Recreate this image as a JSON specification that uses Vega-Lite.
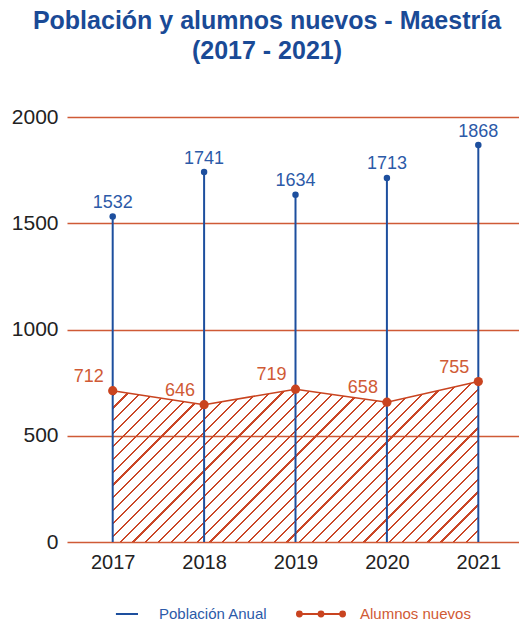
{
  "$schema": "https://vega.github.io/schema/vega-lite/v6.json",
  "width": 452,
  "height": 425,
  "autosize": "none",
  "padding": {"left": 67, "top": 117, "right": 0, "bottom": 81},
  "background": "white",
  "title": {
    "text": ["Población y alumnos nuevos - Maestría", "(2017 - 2021)"],
    "font": "Liberation Sans",
    "fontSize": 25,
    "fontWeight": "bold",
    "color": "#1a4a96",
    "anchor": "middle",
    "lineHeight": 30,
    "offset": 42,
    "dx": -26
  },
  "config": {
    "view": {"stroke": null},
    "font": "Liberation Sans"
  },
  "data": {
    "values": [
      {"year": "2017", "serie": "Población Anual", "value": 1532},
      {"year": "2018", "serie": "Población Anual", "value": 1741},
      {"year": "2019", "serie": "Población Anual", "value": 1634},
      {"year": "2020", "serie": "Población Anual", "value": 1713},
      {"year": "2021", "serie": "Población Anual", "value": 1868},
      {"year": "2017", "serie": "Alumnos nuevos", "value": 712},
      {"year": "2018", "serie": "Alumnos nuevos", "value": 646},
      {"year": "2019", "serie": "Alumnos nuevos", "value": 719},
      {"year": "2020", "serie": "Alumnos nuevos", "value": 658},
      {"year": "2021", "serie": "Alumnos nuevos", "value": 755}
    ]
  },
  "encoding": {
    "x": {
      "field": "year", "type": "nominal",
      "scale": {"type": "point", "padding": 0.4726, "align": 0.529},
      "axis": {"title": null, "labelAngle": 0, "domain": false, "ticks": false, "grid": false,
               "labelFontSize": 20, "labelColor": "#222222", "labelPadding": 10, "labelFont": "Liberation Sans"}
    },
    "y": {
      "field": "value", "type": "quantitative",
      "scale": {"domain": [0, 2000], "nice": false},
      "axis": {"title": null, "values": [0, 500, 1000, 1500, 2000], "format": "d", "domain": false, "ticks": false,
               "grid": true, "gridColor": "#cf5a36", "gridWidth": 1.3, "gridOpacity": 1,
               "labelFontSize": 21, "labelColor": "#222222", "labelPadding": 9, "labelFont": "Liberation Sans"}
    }
  },
  "layer": [
    {
      "transform": [{"filter": "datum.serie === 'Alumnos nuevos'"}],
      "mark": {
        "type": "area",
        "fill": {
          "gradient": "linear", "x1": 0, "y1": 0, "x2": 1.2065, "y2": 0.5294,
          "stops": [
            {"offset":0,"color":"#ca4626"},{"offset":0.0042,"color":"#ca4626"},{"offset":0.0042,"color":"rgba(255,255,255,0)"},{"offset":0.0244,"color":"rgba(255,255,255,0)"},
            {"offset":0.0244,"color":"#ca4626"},{"offset":0.0286,"color":"#ca4626"},{"offset":0.0286,"color":"rgba(255,255,255,0)"},{"offset":0.0488,"color":"rgba(255,255,255,0)"},
            {"offset":0.0488,"color":"#ca4626"},{"offset":0.0530,"color":"#ca4626"},{"offset":0.0530,"color":"rgba(255,255,255,0)"},{"offset":0.0732,"color":"rgba(255,255,255,0)"},
            {"offset":0.0732,"color":"#ca4626"},{"offset":0.0774,"color":"#ca4626"},{"offset":0.0774,"color":"rgba(255,255,255,0)"},{"offset":0.0976,"color":"rgba(255,255,255,0)"},
            {"offset":0.0976,"color":"#ca4626"},{"offset":0.1018,"color":"#ca4626"},{"offset":0.1018,"color":"rgba(255,255,255,0)"},{"offset":0.1220,"color":"rgba(255,255,255,0)"},
            {"offset":0.1220,"color":"#ca4626"},{"offset":0.1262,"color":"#ca4626"},{"offset":0.1262,"color":"rgba(255,255,255,0)"},{"offset":0.1463,"color":"rgba(255,255,255,0)"},
            {"offset":0.1463,"color":"#ca4626"},{"offset":0.1505,"color":"#ca4626"},{"offset":0.1505,"color":"rgba(255,255,255,0)"},{"offset":0.1707,"color":"rgba(255,255,255,0)"},
            {"offset":0.1707,"color":"#ca4626"},{"offset":0.1749,"color":"#ca4626"},{"offset":0.1749,"color":"rgba(255,255,255,0)"},{"offset":0.1951,"color":"rgba(255,255,255,0)"},
            {"offset":0.1951,"color":"#ca4626"},{"offset":0.1993,"color":"#ca4626"},{"offset":0.1993,"color":"rgba(255,255,255,0)"},{"offset":0.2195,"color":"rgba(255,255,255,0)"},
            {"offset":0.2195,"color":"#ca4626"},{"offset":0.2237,"color":"#ca4626"},{"offset":0.2237,"color":"rgba(255,255,255,0)"},{"offset":0.2439,"color":"rgba(255,255,255,0)"},
            {"offset":0.2439,"color":"#ca4626"},{"offset":0.2481,"color":"#ca4626"},{"offset":0.2481,"color":"rgba(255,255,255,0)"},{"offset":0.2683,"color":"rgba(255,255,255,0)"},
            {"offset":0.2683,"color":"#ca4626"},{"offset":0.2725,"color":"#ca4626"},{"offset":0.2725,"color":"rgba(255,255,255,0)"},{"offset":0.2927,"color":"rgba(255,255,255,0)"},
            {"offset":0.2927,"color":"#ca4626"},{"offset":0.2969,"color":"#ca4626"},{"offset":0.2969,"color":"rgba(255,255,255,0)"},{"offset":0.3171,"color":"rgba(255,255,255,0)"},
            {"offset":0.3171,"color":"#ca4626"},{"offset":0.3213,"color":"#ca4626"},{"offset":0.3213,"color":"rgba(255,255,255,0)"},{"offset":0.3415,"color":"rgba(255,255,255,0)"},
            {"offset":0.3415,"color":"#ca4626"},{"offset":0.3457,"color":"#ca4626"},{"offset":0.3457,"color":"rgba(255,255,255,0)"},{"offset":0.3659,"color":"rgba(255,255,255,0)"},
            {"offset":0.3659,"color":"#ca4626"},{"offset":0.3701,"color":"#ca4626"},{"offset":0.3701,"color":"rgba(255,255,255,0)"},{"offset":0.3902,"color":"rgba(255,255,255,0)"},
            {"offset":0.3902,"color":"#ca4626"},{"offset":0.3944,"color":"#ca4626"},{"offset":0.3944,"color":"rgba(255,255,255,0)"},{"offset":0.4146,"color":"rgba(255,255,255,0)"},
            {"offset":0.4146,"color":"#ca4626"},{"offset":0.4188,"color":"#ca4626"},{"offset":0.4188,"color":"rgba(255,255,255,0)"},{"offset":0.4390,"color":"rgba(255,255,255,0)"},
            {"offset":0.4390,"color":"#ca4626"},{"offset":0.4432,"color":"#ca4626"},{"offset":0.4432,"color":"rgba(255,255,255,0)"},{"offset":0.4634,"color":"rgba(255,255,255,0)"},
            {"offset":0.4634,"color":"#ca4626"},{"offset":0.4676,"color":"#ca4626"},{"offset":0.4676,"color":"rgba(255,255,255,0)"},{"offset":0.4878,"color":"rgba(255,255,255,0)"},
            {"offset":0.4878,"color":"#ca4626"},{"offset":0.4920,"color":"#ca4626"},{"offset":0.4920,"color":"rgba(255,255,255,0)"},{"offset":0.5122,"color":"rgba(255,255,255,0)"},
            {"offset":0.5122,"color":"#ca4626"},{"offset":0.5164,"color":"#ca4626"},{"offset":0.5164,"color":"rgba(255,255,255,0)"},{"offset":0.5366,"color":"rgba(255,255,255,0)"},
            {"offset":0.5366,"color":"#ca4626"},{"offset":0.5408,"color":"#ca4626"},{"offset":0.5408,"color":"rgba(255,255,255,0)"},{"offset":0.5610,"color":"rgba(255,255,255,0)"},
            {"offset":0.5610,"color":"#ca4626"},{"offset":0.5652,"color":"#ca4626"},{"offset":0.5652,"color":"rgba(255,255,255,0)"},{"offset":0.5854,"color":"rgba(255,255,255,0)"},
            {"offset":0.5854,"color":"#ca4626"},{"offset":0.5896,"color":"#ca4626"},{"offset":0.5896,"color":"rgba(255,255,255,0)"},{"offset":0.6098,"color":"rgba(255,255,255,0)"},
            {"offset":0.6098,"color":"#ca4626"},{"offset":0.6140,"color":"#ca4626"},{"offset":0.6140,"color":"rgba(255,255,255,0)"},{"offset":0.6341,"color":"rgba(255,255,255,0)"},
            {"offset":0.6341,"color":"#ca4626"},{"offset":0.6383,"color":"#ca4626"},{"offset":0.6383,"color":"rgba(255,255,255,0)"},{"offset":0.6585,"color":"rgba(255,255,255,0)"},
            {"offset":0.6585,"color":"#ca4626"},{"offset":0.6627,"color":"#ca4626"},{"offset":0.6627,"color":"rgba(255,255,255,0)"},{"offset":0.6829,"color":"rgba(255,255,255,0)"},
            {"offset":0.6829,"color":"#ca4626"},{"offset":0.6871,"color":"#ca4626"},{"offset":0.6871,"color":"rgba(255,255,255,0)"},{"offset":0.7073,"color":"rgba(255,255,255,0)"},
            {"offset":0.7073,"color":"#ca4626"},{"offset":0.7115,"color":"#ca4626"},{"offset":0.7115,"color":"rgba(255,255,255,0)"},{"offset":0.7317,"color":"rgba(255,255,255,0)"},
            {"offset":0.7317,"color":"#ca4626"},{"offset":0.7359,"color":"#ca4626"},{"offset":0.7359,"color":"rgba(255,255,255,0)"},{"offset":0.7561,"color":"rgba(255,255,255,0)"},
            {"offset":0.7561,"color":"#ca4626"},{"offset":0.7603,"color":"#ca4626"},{"offset":0.7603,"color":"rgba(255,255,255,0)"},{"offset":0.7805,"color":"rgba(255,255,255,0)"},
            {"offset":0.7805,"color":"#ca4626"},{"offset":0.7847,"color":"#ca4626"},{"offset":0.7847,"color":"rgba(255,255,255,0)"},{"offset":0.8049,"color":"rgba(255,255,255,0)"},
            {"offset":0.8049,"color":"#ca4626"},{"offset":0.8091,"color":"#ca4626"},{"offset":0.8091,"color":"rgba(255,255,255,0)"},{"offset":0.8293,"color":"rgba(255,255,255,0)"},
            {"offset":0.8293,"color":"#ca4626"},{"offset":0.8335,"color":"#ca4626"},{"offset":0.8335,"color":"rgba(255,255,255,0)"},{"offset":0.8537,"color":"rgba(255,255,255,0)"},
            {"offset":0.8537,"color":"#ca4626"},{"offset":0.8579,"color":"#ca4626"},{"offset":0.8579,"color":"rgba(255,255,255,0)"},{"offset":0.8780,"color":"rgba(255,255,255,0)"},
            {"offset":0.8780,"color":"#ca4626"},{"offset":0.8822,"color":"#ca4626"},{"offset":0.8822,"color":"rgba(255,255,255,0)"},{"offset":0.9024,"color":"rgba(255,255,255,0)"},
            {"offset":0.9024,"color":"#ca4626"},{"offset":0.9066,"color":"#ca4626"},{"offset":0.9066,"color":"rgba(255,255,255,0)"},{"offset":0.9268,"color":"rgba(255,255,255,0)"},
            {"offset":0.9268,"color":"#ca4626"},{"offset":0.9310,"color":"#ca4626"},{"offset":0.9310,"color":"rgba(255,255,255,0)"},{"offset":0.9512,"color":"rgba(255,255,255,0)"},
            {"offset":0.9512,"color":"#ca4626"},{"offset":0.9554,"color":"#ca4626"},{"offset":0.9554,"color":"rgba(255,255,255,0)"},{"offset":0.9756,"color":"rgba(255,255,255,0)"},
            {"offset":0.9756,"color":"#ca4626"},{"offset":0.9798,"color":"#ca4626"},{"offset":0.9798,"color":"rgba(255,255,255,0)"},{"offset":1,"color":"rgba(255,255,255,0)"}
          ]
        }
      }
    },
    {
      "transform": [{"filter": "datum.serie === 'Población Anual'"}],
      "mark": {"type": "rule", "strokeWidth": 2},
      "encoding": {
        "y2": {"datum": 0},
        "color": {
          "field": "serie", "type": "nominal",
          "scale": {"domain": ["Población Anual", "Alumnos nuevos"], "range": ["#1d4f9e", "#c94420"]},
          "legend": {
            "orient": "none", "legendX": 28, "legendY": 472, "direction": "horizontal",
            "title": null, "padding": 0, "symbolSize": 2304, "labelOffset": 14, "columnPadding": 24,
            "labelFont": "Liberation Sans", "labelFontSize": 15,
            "encode": {
              "symbols": {"update": {
                "shape": {"signal": "datum.value === 'Alumnos nuevos' ? 'M-0.9,0L0.9,0M-0.8,0A0.1,0.1,0,1,1,-1,0A0.1,0.1,0,1,1,-0.8,0ZM0.1,0A0.1,0.1,0,1,1,-0.1,0A0.1,0.1,0,1,1,0.1,0ZM1,0A0.1,0.1,0,1,1,0.8,0A0.1,0.1,0,1,1,1,0Z' : 'M-0.17,0L0.75,0'"},
                "fill": {"signal": "datum.value === 'Alumnos nuevos' ? '#c94420' : 'transparent'"},
                "stroke": {"signal": "datum.value === 'Alumnos nuevos' ? '#c94420' : '#1d4f9e'"},
                "strokeWidth": {"value": 2},
                "opacity": {"value": 1}
              }},
              "labels": {"update": {
                "fill": {"signal": "datum.value === 'Alumnos nuevos' ? '#d05a35' : '#2c5aa8'"}
              }}
            }
          }
        }
      }
    },
    {
      "transform": [{"filter": "datum.serie === 'Población Anual'"}],
      "mark": {"type": "point", "filled": true, "size": 42, "opacity": 1, "color": "#1d4f9e"}
    },
    {
      "transform": [{"filter": "datum.serie === 'Alumnos nuevos'"}],
      "mark": {"type": "line", "strokeWidth": 1.6},
      "encoding": {
        "color": {"field": "serie", "type": "nominal"}
      }
    },
    {
      "transform": [{"filter": "datum.serie === 'Alumnos nuevos'"}],
      "mark": {"type": "point", "filled": true, "size": 85, "opacity": 1, "color": "#c94420"}
    },
    {
      "transform": [{"filter": "datum.serie === 'Población Anual'"}],
      "mark": {"type": "text", "fontSize": 18, "color": "#2c5aa8", "align": "center", "baseline": "alphabetic", "dy": -8.5, "font": "Liberation Sans"},
      "encoding": {"text": {"field": "value", "type": "quantitative", "format": "d"}}
    },
    {
      "transform": [{"filter": "datum.serie === 'Alumnos nuevos'"}],
      "mark": {"type": "text", "fontSize": 18, "color": "#d05a35", "align": "right", "baseline": "alphabetic", "dx": -9, "dy": -9, "font": "Liberation Sans"},
      "encoding": {"text": {"field": "value", "type": "quantitative", "format": "d"}}
    }
  ]
}
